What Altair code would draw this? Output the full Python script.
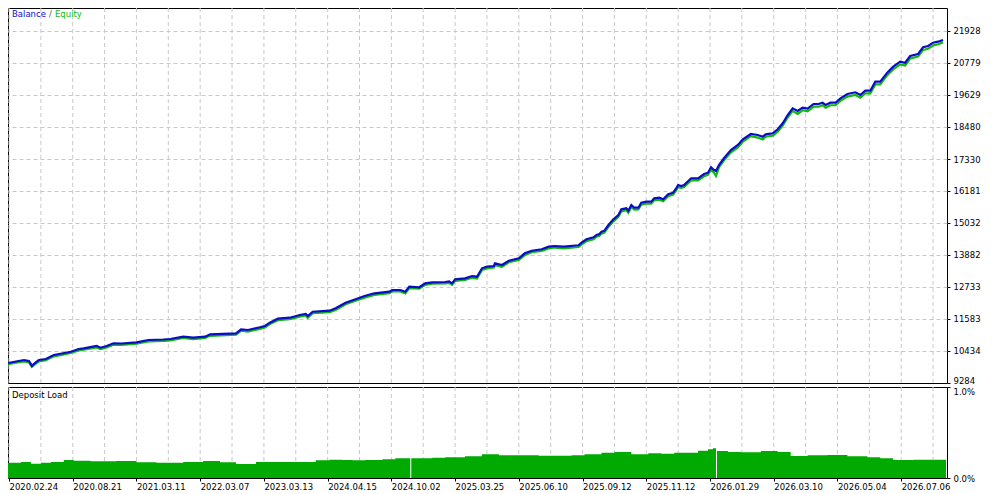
import altair as alt
import pandas as pd

# ---------------- data ----------------
trade = [4,12,20,25,28,31,35,42,50,58,
         67,75,80,93,97,103,110,118,133,145,
         160,167,180,190,202,207,233,238,245,257,
         262,267,275,287,297,303,305,310,327,333,
         343,353,362,372,387,390,398,403,407,417,
         423,430,443,447,450,453,463,470,475,480,
         485,492,493,500,507,517,523,530,540,547,
         553,562,577,580,585,592,595,598,600,603,
         607,612,617,620,625,627,630,633,637,640,
         645,650,653,658,662,667,672,675,677,680,
         683,690,697,703,707,710,713,715,718,723,
         730,737,742,750,757,762,765,772,777,782,
         787,792,797,802,807,813,818,822,825,830,
         835,840,847,855,860,865,870,875,880,887,
         893,900,905,910,918,923,928,933,938,943]

balance = [10002,10056,10110,10074,9905,10002,10110,10146,10290,10344,
           10408,10505,10530,10613,10552,10613,10710,10703,10746,10829,
           10847,10864,10947,10911,10947,11033,11069,11213,11188,11285,
           11331,11450,11594,11630,11727,11762,11691,11845,11881,11967,
           12168,12291,12409,12506,12564,12625,12625,12564,12743,12722,
           12865,12901,12912,12937,12865,13009,13045,13127,13102,13404,
           13462,13487,13584,13523,13677,13763,13943,14036,14087,14180,
           14205,14180,14230,14324,14446,14518,14600,14636,14719,14755,
           14959,15164,15319,15523,15559,15473,15678,15581,15581,15760,
           15796,15796,15918,15940,15882,16062,16120,16278,16396,16360,
           16396,16637,16637,16791,16838,17032,16935,16900,17115,17355,
           17653,17833,18038,18228,18192,18131,18217,18253,18397,18612,
           18911,19151,19054,19173,19137,19306,19306,19352,19270,19352,
           19352,19510,19665,19726,19629,19783,19783,20107,20107,20430,
           20646,20825,20789,21030,21102,21342,21389,21508,21544,21605]

equity = [9960,10010,10060,10020,9860,9950,10060,10100,10240,10290,
          10360,10450,10480,10560,10500,10560,10660,10650,10700,10780,
          10800,10810,10900,10860,10900,10980,11020,11160,11130,11230,
          11280,11400,11540,11580,11670,11710,11620,11790,11830,11910,
          12110,12240,12350,12450,12510,12570,12570,12500,12690,12670,
          12810,12850,12860,12880,12810,12950,12990,13070,13040,13340,
          13400,13430,13520,13460,13620,13700,13880,13980,14030,14120,
          14150,14120,14170,14260,14380,14450,14540,14570,14650,14690,
          14890,15090,15250,15450,15490,15400,15610,15510,15520,15690,
          15730,15730,15850,15870,15810,15990,16050,16200,16320,16290,
          16320,16560,16560,16710,16760,16950,16840,16720,17030,17280,
          17570,17750,17960,18150,18100,18030,18130,18170,18310,18530,
          18820,19060,18950,19080,19040,19210,19210,19260,19170,19260,
          19260,19420,19570,19630,19530,19690,19690,20010,20010,20340,
          20550,20730,20690,20940,21010,21250,21290,21410,21450,21520]

load_trade = [4,17,27,37,47,60,70,87,100,113,
              133,153,180,200,217,233,253,273,293,313,
              327,340,350,363,380,393,407,408,409,417,
              430,443,463,480,497,517,537,570,583,600,
              613,630,647,660,673,687,697,707,712,715,
              716,718,727,740,760,777,790,807,827,847,
              867,880,893,913,933,946]
load = [0.168,0.176,0.157,0.168,0.176,0.198,0.19,0.183,0.183,0.187,
        0.172,0.168,0.176,0.187,0.172,0.154,0.176,0.176,0.176,0.194,
        0.2,0.198,0.194,0.198,0.205,0.216,0.216,0.0,0.216,0.216,
        0.223,0.227,0.238,0.26,0.25,0.25,0.245,0.25,0.26,0.278,
        0.286,0.26,0.271,0.267,0.278,0.278,0.3,0.315,0.326,0.0,
        0.297,0.297,0.286,0.283,0.297,0.286,0.242,0.25,0.253,0.238,
        0.227,0.216,0.198,0.2,0.2,0.205]

y_ticks = [9284, 10434, 11583, 12733, 13882, 15032, 16181, 17330, 18480, 19629, 20779, 21928]
y_min = 9284
y_max = 22754
x_grid = [5,37,69,101,133,165,197,229,261,293,325,357,389,421,453,485,517,549,
          581,613,645,677,709,741,773,805,837,869,901,933]
date_pos = [5,69,133,197,261,325,389,453,517,581,645,709,773,837,901]
date_labels = ["2020.02.24","2020.08.21","2021.03.11","2022.03.07","2023.03.13",
               "2024.04.15","2024.10.02","2025.03.25","2025.06.10","2025.09.12",
               "2025.11.12","2026.01.29","2026.03.10","2026.05.04","2026.07.06"]
legend_words = ["Balance", "/", "Equity"]

# ---------------- styling ----------------
FONT = "DejaVu Sans"
FS = 8.5
BLUE = "#0c0cc8"
GREEN = "#10b810"
FILL = "#00aa00"
GRID = "#c8c8c8"
W = 939

x_scale = alt.Scale(domain=[4, 947], nice=False, zero=False)
y_scale = alt.Scale(domain=[y_min, y_max], nice=False, zero=False)

df = pd.DataFrame({"trade": trade, "balance": balance, "equity": equity})
gdf = pd.DataFrame({"g": x_grid})

y_axis = alt.Axis(orient="right", values=y_ticks, grid=True, gridDash=[4, 3],
                  gridColor=GRID, title=None, format="d", labelPadding=3,
                  gridOpacity={"condition": {"test": "datum.value <= 9284", "value": 0},
                               "value": 1},
                  labelBaseline={"condition": {"test": "datum.value <= 9284", "value": "alphabetic"},
                                 "value": "middle"})

vgrid = alt.Chart(gdf).mark_rule(color=GRID, strokeDash=[4, 3], strokeWidth=1).encode(
    x=alt.X("g:Q", scale=x_scale, axis=None))

eq_line = alt.Chart(df).mark_line(color=GREEN, strokeWidth=2.2).encode(
    x=alt.X("trade:Q", scale=x_scale, axis=None),
    y=alt.Y("equity:Q", scale=y_scale, axis=y_axis))

bal_line = alt.Chart(df).mark_line(color=BLUE, strokeWidth=2.2).encode(
    x=alt.X("trade:Q", scale=x_scale, axis=None),
    y=alt.Y("balance:Q", scale=y_scale, axis=y_axis))

def label(txt, xpos, ypos, color):
    return alt.Chart(pd.DataFrame({"t": [txt]})).mark_text(
        align="left", baseline="middle", font=FONT, fontSize=FS, color=color
    ).encode(x=alt.value(xpos), y=alt.value(ypos), text="t:N")

leg = (label(legend_words[0], 4, 6, BLUE)
       + label(legend_words[1], 41, 6, "#606060")
       + label(legend_words[2], 47, 6, GREEN))

top = alt.layer(vgrid, eq_line, bal_line, leg).properties(width=W, height=375)

# ---------------- deposit load panel ----------------
ldf = pd.DataFrame({"trade": load_trade, "load": load})

pos_str = "[" + ",".join(str(p) for p in date_pos) + "]"
lab_str = "[" + ",".join("'" + s + "'" for s in date_labels) + "]"
x_axis = alt.Axis(values=date_pos, labelExpr=lab_str + "[indexof(" + pos_str + ", datum.value)]",
                  labelAlign="left", grid=False, title=None, tickSize=3, labelPadding=1,
                  labelFlush=False)

vgrid2 = alt.Chart(gdf).mark_rule(color=GRID, strokeDash=[4, 3], strokeWidth=1).encode(
    x=alt.X("g:Q", scale=x_scale, axis=x_axis))

area = alt.Chart(ldf).mark_area(color=FILL, interpolate="step-after", opacity=1).encode(
    x=alt.X("trade:Q", scale=x_scale, axis=x_axis),
    y=alt.Y("load:Q", scale=alt.Scale(domain=[0, 1], nice=False),
            axis=alt.Axis(orient="right", values=[0, 1], grid=False, title=None,
                          labelExpr="format(datum.value, '.1f') + '%'",
                          labelFlush=False, labelPadding=3,
                          labelBaseline={"condition": {"test": "datum.value > 0.5", "value": "top"},
                                         "value": "middle"})))

dl_text = label("Deposit Load", 4, 8, "#000000")

bottom = alt.layer(vgrid2, area, dl_text).properties(width=W, height=91)

chart = alt.vconcat(top, bottom, spacing=1).properties(
    padding={"left": -5, "top": -1, "right": 0, "bottom": 0},
    background="white"
).configure_view(stroke="#000000", strokeWidth=1).configure_axis(
    labelFont=FONT, labelFontSize=FS, labelColor="#000000",
    tickColor="#000000", tickSize=3, domain=False
)

chart.save("out.html", embed_options={"renderer": "svg", "actions": False})
